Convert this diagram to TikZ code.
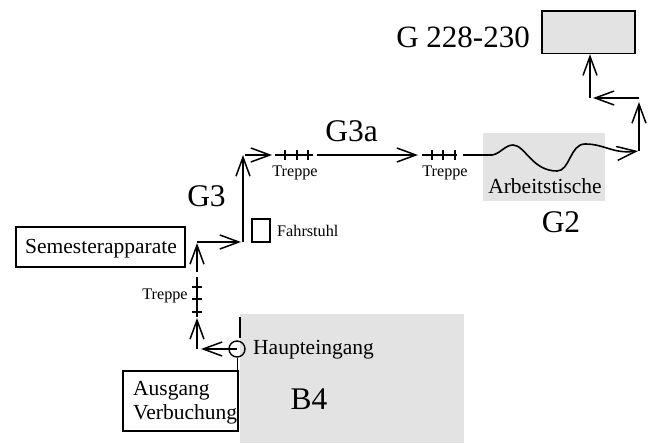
\documentclass[tikz,border=0pt]{standalone}
\usepackage{fontspec}
\setmainfont{Liberation Serif}
\usetikzlibrary{arrows.meta}
\definecolor{zone}{gray}{0.89}
\tikzset{
  line/.style={line width=1.6pt},
  arr/.style={line, -{Straight Barb[length=19pt,width=14pt,line width=1.5pt]}},
  boxed/.style={draw, line width=1.5pt, inner sep=0pt},
  big/.style={font=\fontsize{31.5}{31.5}\selectfont, inner sep=0pt},
  mid/.style={font=\fontsize{21.5}{23.5}\selectfont, inner sep=0pt},
  small/.style={font=\fontsize{16.2}{18}\selectfont, inner sep=0pt},
  tick/.style={line width=1.4pt}
}
\begin{document}
\begin{tikzpicture}[x=1pt,y=-1pt]
\useasboundingbox (0,0) rectangle (649,444);
% shaded zones
\fill[zone] (240,314) rectangle (464,443);
\fill[zone] (483,133) rectangle (605,201);
% boxes
\node[boxed, minimum width=169pt, minimum height=40pt] (sem) at (100.5,247) {};
\node[mid] (semtxt) at (101,249) {Semesterapparate};
\node[boxed, minimum width=115pt, minimum height=60pt] (aus) at (180.5,401) {};
\node[mid, anchor=west, align=left] (austxt) at (133,402.5) {Ausgang\\Verbuchung};
\node[boxed, fill=zone, minimum width=93pt, minimum height=42.5pt] (room) at (588.5,32.25) {};
\node[boxed, minimum width=18pt, minimum height=23pt, line width=1.3pt] (lift) at (261,230.5) {};
\node[draw, circle, line width=1.4pt, minimum size=16pt, inner sep=0pt] (door) at (237,349) {};
% labels
\node[big, font=\fontsize{31}{31}\selectfont, anchor=east] (lroom) at (530,37) {G 228-230};
\node[big] (lg3a) at (351.5,131) {G3a};
\node[big] (lg3) at (206.5,196) {G3};
\node[big] (lg2) at (561,222) {G2};
\node[big] (lb4) at (309,399) {B4};
\node[mid] (larb) at (545,186) {Arbeitstische};
\node[mid, anchor=west] (lhaupt) at (253,350) {Haupteingang};
\node[small, anchor=west] (lfahr) at (277,231) {Fahrstuhl};
\node[small] (ltr1) at (165,296) {Treppe};
\node[small] (ltr2) at (295,173) {Treppe};
\node[small] (ltr3) at (445,173) {Treppe};
% route points
\coordinate (p2) at (201,349);
\coordinate (p3) at (197,349);
\coordinate (p4) at (197,318);
\coordinate (s1a) at (197,317);
\coordinate (s1b) at (197,277);
\coordinate (p5) at (197,272);
\coordinate (p6) at (197,243);
\coordinate (p7) at (197,242);
\coordinate (p8) at (241,242);
\coordinate (p9) at (243,242);
\coordinate (p10) at (243,155);
\coordinate (p11) at (245,155);
\coordinate (p12) at (272,155);
\coordinate (s2a) at (275,155);
\coordinate (s2b) at (313,155);
\coordinate (p13) at (317,155);
\coordinate (p14) at (418,155);
\coordinate (s3a) at (422,155);
\coordinate (s3b) at (457,155);
\coordinate (w0) at (463,155);
\coordinate (w1) at (638,151);
\coordinate (p15) at (639,151);
\coordinate (p16) at (639,102);
\coordinate (p17) at (639,98);
\coordinate (p18) at (593,98);
\coordinate (p19) at (590,98);
\coordinate (w2) at (240,338);
\coordinate (w3) at (240,317);
\coordinate (w4) at (237.5,358);
% route
\draw[arr] (door.center) -- (p2);
\draw[arr] (p3) -- (p4);
\draw[tick] (s1a) -- (s1b);
\foreach \y in {287,299,312} \draw[tick] (192,\y) -- (202,\y);
\draw[arr] (p5) -- (p6);
\draw[arr] (p7) -- (p8);
\draw[arr] (p9) -- (p10);
\draw[arr] (p11) -- (p12);
\draw[tick] (s2a) -- (s2b);
\foreach \x in {285,297,308} \draw[tick] (\x,150) -- (\x,160);
\draw[arr] (p13) -- (p14);
\draw[tick] (s3a) -- (s3b);
\foreach \x in {432,443,455} \draw[tick] (\x,150) -- (\x,160);
\draw[arr] (w0) -- (492,155)
  .. controls (500,154) and (505,145) .. (513,145)
  .. controls (525,145) and (532,171) .. (557,171)
  .. controls (570,171) and (570,144) .. (585,144)
  .. controls (605,144) and (612,154) .. (w1);
\draw[arr] (p15) -- (p16);
\draw[arr] (p17) -- (p18);
\draw[arr] (p19) -- (room.south -| p19);
\draw[tick] (w3) -- (w2);
\draw[tick] (w4) -- (aus.north east -| w4);
\end{tikzpicture}
\end{document}
